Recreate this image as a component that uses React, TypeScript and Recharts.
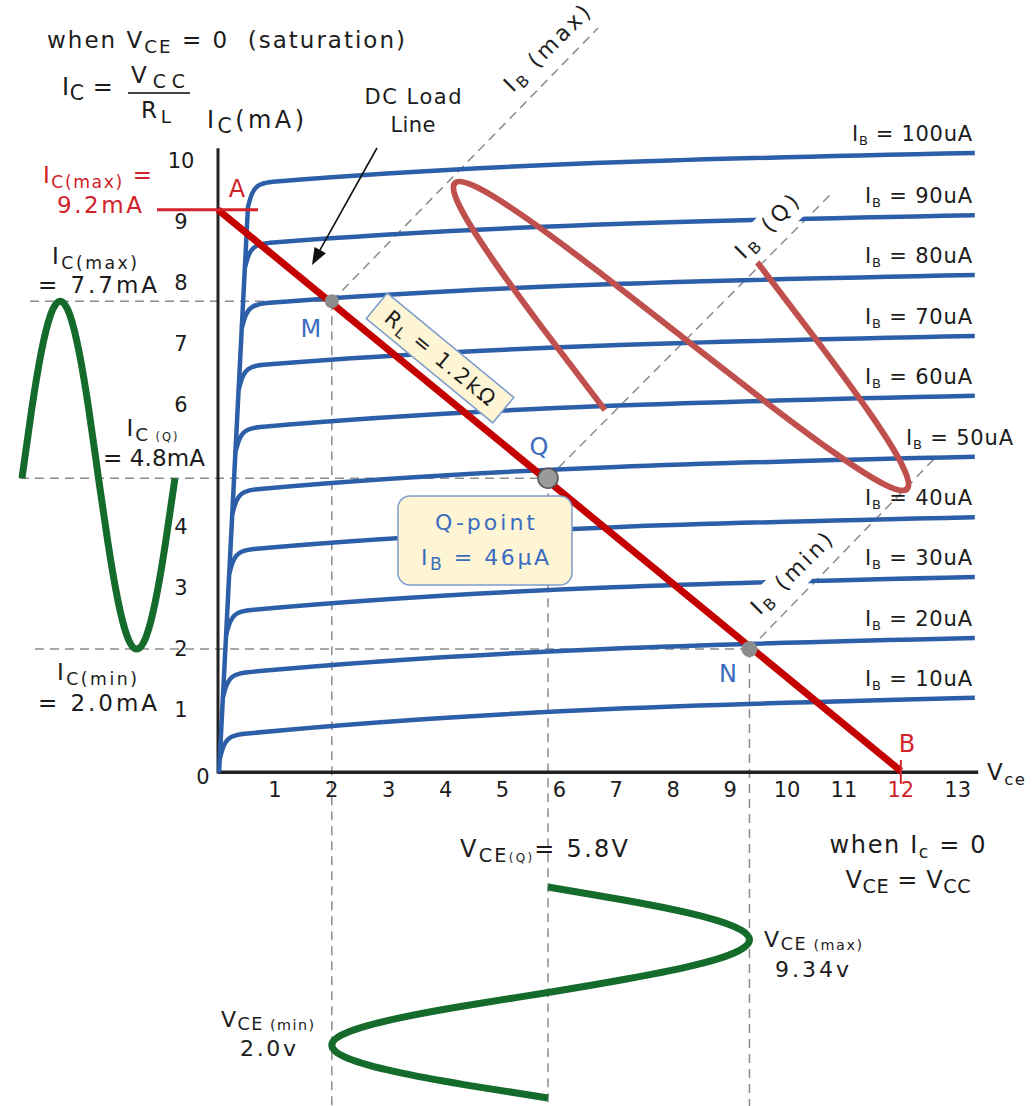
import React from 'react';
import { ComposedChart, Line, XAxis, YAxis, ReferenceLine, ReferenceDot } from 'recharts';

const WIDTH = 1033;
const HEIGHT = 1106;

// Vce (V) and Ic (mA) spans of the whole canvas, so the output waveforms and
// the notes can be placed around the characteristic curves on the same scales.
const VCE_RANGE: [number, number] = [-3.831, 14.323];
const IC_RANGE: [number, number] = [-5.492, 12.639];

// ---- Output characteristic family ----
const baseCurrents = [10, 20, 30, 40, 50, 60, 70, 80, 90, 100]; // µA
const icAtKnee = [0.61, 1.62, 2.64, 3.64, 4.62, 5.64, 6.66, 7.67, 8.66, 9.66]; // mA just past the knee
const icAtEnd = [1.2, 2.18, 3.18, 4.16, 5.15, 6.15, 7.13, 8.13, 9.11, 10.13]; // mA at the right end
const VCE_END = 13.3;

// ---- DC load line (Vcc = 12 V, RL = 1.2 kΩ) ----
const VCC = 12;
const IC_SAT = 9.2;
const loadLine = [
  { vce: 0, ic: IC_SAT },
  { vce: VCC, ic: 0 },
];

// ---- Operating points ----
const pointM = { vce: 2.0, ic: 7.7 };
const pointQ = { vce: 5.8, ic: 4.8 };
const pointN = { vce: 9.34, ic: 2.0 };

const xTicks = [1, 2, 3, 4, 5, 6, 7, 8, 9, 10, 11, 12, 13];
// the "5" position on the Ic axis is taken by the Ic(Q) note
const yTicks = [1, 2, 3, 4, 6, 7, 8, 9, 10];

// ---- Collector current swing (drawn left of the Ic axis) ----
const icWaveT = [-3.445, -3.277, -3.109, -2.941, -2.773, -2.605, -2.437, -2.268, -2.1, -1.932, -1.764, -1.596, -1.428, -1.26, -1.092, -0.924, -0.756];
const icWaveI = [4.8, 5.91, 6.85, 7.48, 7.7, 7.48, 6.85, 5.91, 4.8, 3.73, 2.82, 2.21, 2.0, 2.21, 2.82, 3.73, 4.8];

// ---- Collector-emitter voltage swing (drawn below the Vce axis) ----
const vceWaveV = [5.8, 7.156, 8.303, 9.071, 9.34, 9.071, 8.303, 7.156, 5.8, 4.345, 3.113, 2.289, 2.0, 2.289, 3.113, 4.345, 5.8];
const vceWaveT = [-1.902, -2.118, -2.334, -2.551, -2.767, -2.983, -3.199, -3.415, -3.632, -3.848, -4.064, -4.28, -4.496, -4.713, -4.929, -5.145, -5.361];

// ---- Base current swing, drawn along the IB(Q) line ----
const ibWaveV = [6.801, 5.703, 4.8, 4.25, 4.165, 4.583, 5.467, 6.705, 8.137, 9.569, 10.807, 11.691, 12.109, 12.025, 11.475, 10.571, 9.473];
const ibWaveI = [5.918, 7.262, 8.423, 9.251, 9.639, 9.554, 9.03, 8.172, 7.131, 6.09, 5.233, 4.708, 4.623, 5.011, 5.839, 7.0, 8.344];

// ---- IB construction lines through M, Q and N ----
const ibMaxLine = [pointM, { vce: 6.678, ic: 12.18 }];
const ibQLine = [pointQ, { vce: 10.756, ic: 9.443 }];
const ibMinLine = [pointN, { vce: 12.601, ic: 5.131 }];

// ---- Styling ----
const SANS = "'DejaVu Sans', Verdana, sans-serif";
const INK = '#1c1c1c';
const RED = '#d2222a';
const BLUE_TXT = '#3b6cc0';
const CURVE_BLUE = '#2c5fa8';
const LOAD_RED = '#c40000';
const WAVE_GREEN = '#156b2b';
const IB_WAVE = '#c0504d';
const DASH = '#8c8c8c';
const NOTE_FILL = '#fdf5d4';
const NOTE_EDGE = '#7d9ccb';

type Pt = { vce: number; ic: number };

const envelopeV = (ic: number) => 0.02 + 0.0548 * ic;

const curves = baseCurrents.map((ib, k) => {
  const knee = icAtKnee[k];
  const branch = knee - 0.41;
  const v0 = envelopeV(branch);
  return {
    ib,
    points: [
      { vce: v0, ic: branch },
      { vce: v0 + 0.07, ic: knee - 0.2 },
      { vce: v0 + 0.21, ic: knee - 0.05 },
      { vce: v0 + 0.44, ic: knee },
      { vce: VCE_END, ic: icAtEnd[k] },
    ],
  };
});

const topBranch = icAtKnee[icAtKnee.length - 1] - 0.41;
const envelope = [
  { vce: envelopeV(0), ic: 0 },
  { vce: envelopeV(topBranch), ic: topBranch },
];

const icWave = icWaveT.map((t, k) => ({ vce: t, ic: icWaveI[k] }));
const vceWave = vceWaveV.map((v, k) => ({ vce: v, ic: vceWaveT[k] }));
const ibWave = ibWaveV.map((v, k) => ({ vce: v, ic: ibWaveI[k] }));

// point part-way along a construction line
const along = (line: Pt[], f: number): Pt => ({
  vce: line[0].vce + f * (line[1].vce - line[0].vce),
  ic: line[0].ic + f * (line[1].ic - line[0].ic),
});

type Seg = { t: string; sub?: boolean; scale?: number };
const S = (t: string): Seg => ({ t });
const sub = (t: string, scale?: number): Seg => ({ t, sub: true, scale });

function Rich(props: any) {
  const {
    viewBox,
    segs,
    size = 20,
    color = INK,
    anchor = 'start',
    dx = 0,
    dy = 0,
    family = SANS,
    subScale = 0.72,
    subDrop = 0.2,
    width,
  } = props;
  const x = (viewBox?.x ?? 0) + dx;
  const y = (viewBox?.y ?? 0) + dy;
  let cur = 0;
  return (
    <text
      x={x}
      y={y}
      fontSize={size}
      fill={color}
      textAnchor={anchor}
      fontFamily={family}
      textLength={width}
      lengthAdjust={width ? 'spacing' : undefined}
      style={{ whiteSpace: 'pre' }}
    >
      {segs.map((s: Seg, k: number) => {
        const want = s.sub ? size * subDrop : 0;
        const shift = want - cur;
        cur = want;
        return (
          <tspan key={k} dy={shift} fontSize={s.sub ? size * (s.scale ?? subScale) : size}>
            {s.t}
          </tspan>
        );
      })}
    </text>
  );
}

// Label set along a 45° construction line with a white backing
function SlantTag(props: any) {
  const { viewBox, segs, size = 20, width = 110, lift = 15 } = props;
  const x = viewBox?.x ?? 0;
  const y = viewBox?.y ?? 0;
  const top = lift + size * 0.95;
  return (
    <g transform={`translate(${x},${y}) rotate(-45)`}>
      <rect x={-width / 2 - 2} y={-top} width={width + 4} height={top - 4} fill="#ffffff" />
      <Rich viewBox={{ x: 0, y: 0 }} segs={segs} size={size} anchor="middle" dy={-lift} width={width} />
    </g>
  );
}

function QPointBox(props: any) {
  const x = props.viewBox?.x ?? 0;
  const y = props.viewBox?.y ?? 0;
  return (
    <g transform={`translate(${x},${y})`}>
      <rect x={-87} y={-44.5} width={174} height={89} rx={12} ry={12} fill={NOTE_FILL} stroke={NOTE_EDGE} strokeWidth={1.5} />
      <Rich viewBox={{ x: 0, y: 0 }} segs={[S('Q-point')]} size={22} color={BLUE_TXT} anchor="middle" dy={-10} width={100} />
      <Rich viewBox={{ x: 0, y: 0 }} segs={[S('I'), sub('B', 0.78), S(' = 46μA')]} size={22} color={BLUE_TXT} anchor="middle" dy={25} width={128} />
    </g>
  );
}

function LoadTag(props: any) {
  const x = props.viewBox?.x ?? 0;
  const y = props.viewBox?.y ?? 0;
  return (
    <g transform={`translate(${x},${y}) rotate(39.5)`}>
      <rect x={-82} y={-16.5} width={164} height={33} fill={NOTE_FILL} stroke={NOTE_EDGE} strokeWidth={1.5} />
      <Rich viewBox={{ x: 0, y: 0 }} segs={[S('R'), sub('L'), S(' = 1.2kΩ')]} size={21} anchor="middle" dy={7} width={136} />
    </g>
  );
}

const arrowHead = (angle: number) => (p: any) => (
  <polygon
    points="0,0 -17,-6.5 -17,6.5"
    transform={`translate(${p.cx},${p.cy}) rotate(${angle})`}
    fill="#111111"
  />
);

const note = (id: string, vce: number, ic: number, content: React.ReactElement) => (
  <ReferenceDot key={id} x={vce} y={ic} r={0} fill="none" stroke="none" ifOverflow="visible" label={content} />
);

const dashed = (id: string, a: Pt, b: Pt) => (
  <ReferenceLine
    key={id}
    segment={[
      { x: a.vce, y: a.ic },
      { x: b.vce, y: b.ic },
    ]}
    stroke={DASH}
    strokeWidth={1.5}
    strokeDasharray="9 6"
    ifOverflow="visible"
  />
);

const solid = (id: string, a: Pt, b: Pt, color: string, w: number) => (
  <ReferenceLine
    key={id}
    segment={[
      { x: a.vce, y: a.ic },
      { x: b.vce, y: b.ic },
    ]}
    stroke={color}
    strokeWidth={w}
    ifOverflow="visible"
  />
);

export default function App() {
  const bottom = IC_RANGE[0];
  const tagMax = along(ibMaxLine, 0.868);
  const tagQ = along(ibQLine, 0.833);
  const tagMin = along(ibMinLine, 0.313);
  return (
    <div style={{ position: 'absolute', left: 0, top: 0, width: WIDTH, height: HEIGHT, background: '#ffffff' }}>
      <ComposedChart width={WIDTH} height={HEIGHT} margin={{ top: 0, right: 0, bottom: 0, left: 0 }}>
        <XAxis dataKey="vce" type="number" domain={VCE_RANGE} allowDataOverflow hide />
        <YAxis type="number" domain={IC_RANGE} allowDataOverflow hide />

        {/* construction lines */}
        {dashed('h-max', { vce: -3.304, ic: pointM.ic }, pointM)}
        {dashed('h-q', { vce: -3.48, ic: pointQ.ic }, pointQ)}
        {dashed('h-min', { vce: -3.216, ic: pointN.ic }, pointN)}
        {dashed('v-min', pointM, { vce: pointM.vce, ic: bottom })}
        {dashed('v-q', pointQ, { vce: pointQ.vce, ic: bottom })}
        {dashed('v-max', pointN, { vce: pointN.vce, ic: bottom })}
        {dashed('ib-max', ibMaxLine[0], ibMaxLine[1])}
        {dashed('ib-q', ibQLine[0], ibQLine[1])}
        {dashed('ib-min', ibMinLine[0], ibMinLine[1])}

        {/* axes */}
        {solid('axis-y', { vce: 0, ic: -0.04 }, { vce: 0, ic: 10.21 }, '#222222', 3)}
        {solid('axis-x', { vce: 0, ic: -0.02 }, { vce: 13.36, ic: -0.02 }, '#222222', 3.5)}

        {/* characteristic curves */}
        {curves.map((c) => (
          <Line
            key={`ib-${c.ib}`}
            data={c.points}
            dataKey="ic"
            type="monotone"
            stroke={CURVE_BLUE}
            strokeWidth={4.5}
            dot={false}
            activeDot={false}
            isAnimationActive={false}
          />
        ))}
        <Line
          data={envelope}
          dataKey="ic"
          type="linear"
          stroke={CURVE_BLUE}
          strokeWidth={4.5}
          strokeLinecap="round"
          dot={false}
          activeDot={false}
          isAnimationActive={false}
        />

        {/* base current swing */}
        <Line
          data={ibWave}
          dataKey="ic"
          type="natural"
          stroke={IB_WAVE}
          strokeWidth={6}
          dot={false}
          activeDot={false}
          isAnimationActive={false}
        />

        {/* DC load line */}
        <Line
          data={loadLine}
          dataKey="ic"
          type="linear"
          stroke={LOAD_RED}
          strokeWidth={7}
          dot={false}
          activeDot={false}
          isAnimationActive={false}
        />

        {/* output waveforms */}
        <Line
          data={icWave}
          dataKey="ic"
          type="natural"
          stroke={WAVE_GREEN}
          strokeWidth={7}
          dot={false}
          activeDot={false}
          isAnimationActive={false}
        />
        <Line
          data={vceWave}
          dataKey="ic"
          type="natural"
          stroke={WAVE_GREEN}
          strokeWidth={7}
          dot={false}
          activeDot={false}
          isAnimationActive={false}
        />

        {/* saturation marker and cut-off tick */}
        {solid('ic-sat', { vce: -1.072, ic: IC_SAT }, { vce: 0.703, ic: IC_SAT }, RED, 3)}
        {solid('vcc-tick', { vce: VCC, ic: 0.18 }, { vce: VCC, ic: -0.21 }, RED, 2)}

        {/* DC load line pointer */}
        {solid('arrow', { vce: 2.794, ic: 10.213 }, { vce: 1.72, ic: 8.42 }, '#111111', 1.6)}
        <ReferenceDot x={1.652} y={8.295} r={8} ifOverflow="visible" shape={arrowHead(119)} />

        {/* operating points */}
        <ReferenceDot x={pointM.vce} y={pointM.ic} r={7} fill="#8c8c8c" stroke="none" ifOverflow="visible" />
        <ReferenceDot x={pointN.vce} y={pointN.ic} r={8} fill="#8c8c8c" stroke="none" ifOverflow="visible" />
        <ReferenceDot x={pointQ.vce} y={pointQ.ic} r={10} fill="#9a9a9a" stroke="#555555" strokeWidth={1.5} ifOverflow="visible" />

        {/* tick labels */}
        {xTicks.map((t) =>
          note(`xt-${t}`, t, -0.311, <Rich segs={[S(String(t))]} size={21} anchor="middle" dy={7.5} color={t === VCC ? RED : INK} />)
        )}
        {yTicks.map((t) => note(`yt-${t}`, -0.65, t, <Rich segs={[S(String(t))]} size={21} anchor="middle" dy={7.5} />))}
        {note('zero', -0.264, -0.098, <Rich segs={[S('0')]} size={21} anchor="middle" dy={7.5} />)}
        {note('vce-unit', 13.515, -0.148, <Rich segs={[S('V'), sub('ce')]} size={23} width={38} />)}
        {note('ic-unit', -0.193, 10.541, <Rich segs={[S('I'), sub('C', 0.85), S('(mA)')]} size={24} width={97} />)}

        {/* saturation note */}
        {note('sat', -3.005, 11.852, <Rich segs={[S('when V'), sub('CE', 0.8), S(' = 0  (saturation)')]} size={23} width={358} />)}
        {note('ic-eq', -2.742, 11.082, <Rich segs={[S('I'), sub('C', 0.85), S(' =')]} size={24} width={51} />)}
        {note('frac-top', -1.054, 11.279, <Rich segs={[S('V'), sub('CC', 0.82)]} size={23} anchor="middle" width={54} />)}
        {solid('frac-bar', { vce: -1.582, ic: 11.115 }, { vce: -0.492, ic: 11.115 }, '#444444', 2)}
        {note('frac-bot', -1.09, 10.705, <Rich segs={[S('R'), sub('L', 0.8)]} size={23} anchor="middle" width={30} />)}

        {/* load line caption */}
        {note('dc1', 3.427, 10.934, <Rich segs={[S('DC Load')]} size={21} anchor="middle" width={97} />)}
        {note('dc2', 3.427, 10.475, <Rich segs={[S('Line')]} size={21} anchor="middle" width={45} />)}

        {/* IB construction labels */}
        {note('ibmax', tagMax.vce, tagMax.ic, <SlantTag segs={[S('I'), sub('B'), S(' (max)')]} size={22} width={112} />)}
        {note('ibq', tagQ.vce, tagQ.ic, <SlantTag segs={[S('I'), sub('B'), S(' (Q)')]} size={22} width={80} />)}
        {note('ibmin', tagMin.vce, tagMin.ic, <SlantTag segs={[S('I'), sub('B'), S(' (min)')]} size={22} width={105} />)}

        {/* base current legend */}
        {baseCurrents.map((ib, k) => {
          const wide = ib === 50;
          return note(
            `lab-${ib}`,
            wide ? 13.972 : 13.251,
            icAtEnd[k] + 0.2,
            <Rich segs={[S('I'), sub('B', 0.62), S(` = ${ib}uA`)]} size={21} anchor="end" width={ib === 100 ? 120 : 107} />
          );
        })}

        {/* point letters */}
        {note('A', 0.334, 9.41, <Rich segs={[S('A')]} size={24} color={RED} anchor="middle" />)}
        {note('B', 12.109, 0.311, <Rich segs={[S('B')]} size={24} color={RED} anchor="middle" />)}
        {note('M', 1.634, 7.115, <Rich segs={[S('M')]} size={24} color={BLUE_TXT} anchor="middle" />)}
        {note('Q', 5.641, 5.18, <Rich segs={[S('Q')]} size={24} color={BLUE_TXT} anchor="middle" />)}
        {note('N', 8.963, 1.459, <Rich segs={[S('N')]} size={24} color={BLUE_TXT} anchor="middle" />)}

        {/* Ic swing notes */}
        {note('icsat1', -2.118, 9.639, <Rich segs={[S('I'), sub('C(max)', 0.75), S(' =')]} size={23} color={RED} anchor="middle" width={109} />)}
        {note('icsat2', -2.083, 9.148, <Rich segs={[S('9.2mA')]} size={23} color={RED} anchor="middle" width={85} />)}
        {note('icmax1', -2.17, 8.311, <Rich segs={[S('I'), sub('C(max)', 0.75)]} size={23} anchor="middle" width={85} />)}
        {note('icmax2', -2.118, 7.836, <Rich segs={[S('= 7.7mA')]} size={23} anchor="middle" width={119} />)}
        {note('icq1', -1.16, 5.492, <Rich segs={[S('I'), sub('C', 0.8), sub(' (Q)', 0.5)]} size={23} anchor="middle" width={51} />)}
        {note('icq2', -1.125, 5.0, <Rich segs={[S('= 4.8mA')]} size={23} anchor="middle" width={102} />)}
        {note('icmin1', -2.127, 1.492, <Rich segs={[S('I'), sub('C(min)', 0.75)]} size={23} anchor="middle" width={80} />)}
        {note('icmin2', -2.118, 0.984, <Rich segs={[S('= 2.0mA')]} size={23} anchor="middle" width={119} />)}

        {/* boxes */}
        {note('rl-tag', 3.902, 6.77, <LoadTag />)}
        {note('q-box', 4.692, 3.779, <QPointBox />)}

        {/* Vce swing notes */}
        {note('vceq', 4.253, -1.41, <Rich segs={[S('V'), sub('CE', 0.8), sub('(Q)', 0.5), S('= 5.8V')]} size={24} width={168} />)}
        {note('cut1', 12.118, -1.344, <Rich segs={[S('when I'), sub('c'), S(' = 0')]} size={24} anchor="middle" width={156} />)}
        {note('cut2', 12.127, -1.918, <Rich segs={[S('V'), sub('CE', 0.8), S(' = V'), sub('CC', 0.8)]} size={24} anchor="middle" width={125} />)}
        {note('vcemax1', 9.596, -2.885, <Rich segs={[S('V'), sub('CE', 0.8), sub(' (max)', 0.65)]} size={22} subDrop={0.14} width={98} />)}
        {note('vcemax2', 9.789, -3.377, <Rich segs={[S('9.34v')]} size={22} width={74} />)}
        {note('vcemin1', 0.053, -4.197, <Rich segs={[S('V'), sub('CE', 0.8), sub(' (min)', 0.65)]} size={22} subDrop={0.14} width={93} />)}
        {note('vcemin2', 0.387, -4.672, <Rich segs={[S('2.0v')]} size={22} width={56} />)}
      </ComposedChart>
    </div>
  );
}
